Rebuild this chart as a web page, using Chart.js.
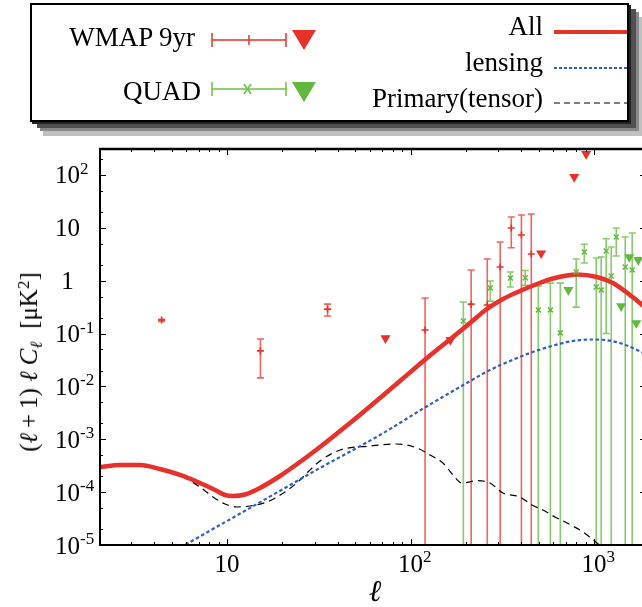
<!DOCTYPE html>
<html><head><meta charset="utf-8">
<script src="https://cdn.jsdelivr.net/npm/chart.js@4.4.1/dist/chart.umd.min.js"></script>
<style>
html,body{margin:0;padding:0;background:#fff;overflow:hidden;width:642px;height:607px;position:relative;}
#cv{position:absolute;left:0;top:0;}
.serif{font-family:"Liberation Serif","Times New Roman",serif;color:#000;}
#lgbox{position:absolute;left:30px;top:3px;width:599px;height:119px;box-sizing:border-box;border:2px solid #000;background:#fff;
  box-shadow:2px 2px 0 #222,7px 6px 0 #505050,10px 9px 0 #888,13px 14px 0 #c0c0c0;}
.lt{position:absolute;font-size:27px;line-height:30px;height:30px;white-space:nowrap;text-align:right;}
#lgsvg{position:absolute;left:0;top:0;}
#xt{position:absolute;left:375px;top:591px;transform:translate(-50%,-50%);font-size:30px;font-style:italic;line-height:30px;}
#yt{position:absolute;left:29px;top:362px;transform:translate(-50%,-50%) rotate(-90deg);font-size:25px;white-space:nowrap;line-height:30px;}
#yt sub,#yt sup{font-size:0.68em;line-height:0;position:relative;vertical-align:baseline;}
#yt sub{top:0.3em;} #yt sup{top:-0.5em;}
</style></head>
<body>
<canvas id="cv" width="660" height="607"></canvas>
<div id="lgbox"></div>
<div class="lt serif" style="right:447px;top:22px;">WMAP 9yr</div>
<div class="lt serif" style="right:441px;top:76px;">QUAD</div>
<div class="lt serif" style="right:99px;top:11px;">All</div>
<div class="lt serif" style="right:99px;top:47px;">lensing</div>
<div class="lt serif" style="right:99px;top:83px;">Primary(tensor)</div>
<svg id="lgsvg" width="642" height="130" xmlns="http://www.w3.org/2000/svg">
  <g stroke="#e8312a" stroke-width="1.5" fill="none">
    <line x1="212" y1="40" x2="286" y2="40"/>
    <line x1="212" y1="33" x2="212" y2="47"/>
    <line x1="286" y1="33" x2="286" y2="47"/>
    <line x1="249" y1="35" x2="249" y2="45"/>
  </g>
  <polygon points="292,30 316,30 304,50" fill="#e8312a"/>
  <g stroke="#6cbf45" stroke-width="1.5" fill="none">
    <line x1="212" y1="89" x2="286" y2="89"/>
    <line x1="212" y1="82" x2="212" y2="96"/>
    <line x1="286" y1="82" x2="286" y2="96"/>
    <line x1="244" y1="84" x2="251" y2="94"/>
    <line x1="251" y1="84" x2="244" y2="94"/>
  </g>
  <polygon points="292,82 316,82 304,102" fill="#62b83c"/>
  <line x1="554" y1="32" x2="627" y2="32" stroke="#e8312a" stroke-width="4"/>
  <line x1="554" y1="68" x2="627" y2="68" stroke="#2f5fbf" stroke-width="2" stroke-dasharray="3,2"/>
  <line x1="554" y1="103" x2="627" y2="103" stroke="#000" stroke-width="1.2" stroke-dasharray="6,4"/>
</svg>
<div id="xt" class="serif">ℓ</div>
<div id="yt" class="serif">(<i>ℓ</i>&#8201;+&#8201;1) <i>ℓ</i> <i>C</i><sub><i>ℓ</i></sub>&nbsp; [μK<sup>2</sup>]</div>
<script>
// ---------------- data ----------------
const allL = [2.03,2.61,3.35,4.31,5.54,7.12,8.6,9.74,10.77,12.52,15.11,19.43,24.97,32.09,46.76,68.15,87.6,122.9,170.3,210.8,260.9,318.9,394.8,488.7,597.3,807.1,1037,1268,1569,1779,2017];
const allV = [2.99e-4,3.26e-4,3.26e-4,2.74e-4,2.11e-4,1.49e-4,1.10e-4,8.83e-5,8.45e-5,9.02e-5,1.20e-4,2.02e-4,3.72e-4,7.14e-4,2.03e-3,6.04e-3,1.267e-2,3.45e-2,8.61e-2,0.1584,0.2915,0.4506,0.6384,0.866,1.10,1.31,1.175,0.905,0.536,0.378,0.256];

const lensL = [4.89,5.9,13.33,32.09,68.15,119.8,198,270.9,348.3,447.6,575.2,739.1,950,1147,1384,1671,2017];
const lensV = [6.76e-6,1.0e-5,5.01e-5,2.86e-4,1.205e-3,3.99e-3,1.111e-2,2.045e-2,3.03e-2,4.29e-2,5.69e-2,7.08e-2,7.72e-2,7.55e-2,6.63e-2,5.10e-2,3.76e-2];

const tensL = [2.03,3.07,4.31,5.75,7.12,8.38,9.74,11.33,13.33,16.5,20.7,24.97,28.31,32.09,41.25,60.1,84.3,108.4,127.6,150.2,170.3,190.7,233,271,318.9,394.8,459,527,612.6,712,870.5,1037,1147];
const tensV = [2.99e-4,3.26e-4,2.74e-4,1.93e-4,1.25e-4,8.09e-5,5.97e-5,5.24e-5,5.47e-5,6.51e-5,1.006e-4,1.70e-4,2.62e-4,3.88e-4,6.27e-4,7.46e-4,8.14e-4,6.84e-4,5.04e-4,3.56e-4,2.11e-4,1.49e-4,1.65e-4,1.49e-4,9.63e-5,8.09e-5,5.71e-5,4.59e-5,3.39e-5,2.61e-5,1.76e-5,1.09e-5,8.04e-6];

const wmapL  = [4.4, 15.2, 35.3, 120, 214, 262, 308, 354, 402, 455];
const wmapV  = [0.18, 0.047, 0.29, 0.117, 0.36, 0.347, 1.82, 9.9, 7.3, 3.2];
const wmapHi = [0.186, 0.079, 0.36, 0.47, 1.59, 2.58, 5.4, 16, 17.5, 18.3];
const wmapLo = [0.17, 0.0145, 0.215, 1e-7, 1e-7, 1e-7, 1e-7, 4.2, 1e-7, 1e-7];
const wmapLimL = [73, 165, 515, 780, 906];
const wmapLimV = [0.082, 0.0755, 3.3, 92, 250];

const quadL  = [194, 272, 350, 422, 497, 578, 655, 800, 885, 1028, 1094, 1165, 1241, 1322, 1479, 1615];
const quadV  = [0.173, 0.73, 1.12, 1.14, 0.28, 0.28, 0.103, 1.46, 3.5, 0.76, 0.67, 3.65, 1.23, 6.7, 1.82, 1.6];
const quadHi = [0.395, 0.99, 1.46, 1.56, 0.79, 0.9, 0.9, 2.58, 4.9, 2.69, 2.8, 6.2, 4.35, 9.9, 6.7, 8.0];
const quadLo = [1e-7, 0.41, 0.76, 0.82, 1e-7, 1e-7, 1e-7, 0.316, 2.16, 1e-7, 1e-7, 0.1, 1e-7, 2.93, 1e-7, 1e-7];
const quadLimL = [725, 1406, 1556, 1700, 1742];
const quadLimV = [0.67, 0.33, 2.8, 0.158, 2.47];

// ticks
const xTickVals = [10, 100, 1000];
const xTickBase = ["10", "10", "10"];
const xTickSup  = ["", "2", "3"];
const yTickVals = [1e-5, 1e-4, 1e-3, 1e-2, 1e-1, 1, 10, 100];
const yTickBase = ["10", "10", "10", "10", "10", "1", "10", "10"];
const yTickSup  = ["-5", "-4", "-3", "-2", "-1", "", "", "2"];
// --------------------------------------

const RED = '#e8312a', GREEN = '#62b83c', BLUE = '#2f5fbf';
const pts = (xs, ys) => xs.map((x, i) => ({x, y: ys[i]}));

function drawBars(ctx, xs, ys, lo, hi, color, X, Y) {
  ctx.strokeStyle = color; ctx.lineWidth = 1.6;
  for (let i = 0; i < xs.length; i++) {
    const px = X.getPixelForValue(xs[i]);
    const pl = Y.getPixelForValue(lo[i]);
    const ph = Y.getPixelForValue(hi[i]);
    ctx.beginPath();
    ctx.moveTo(px, pl); ctx.lineTo(px, ph);
    ctx.moveTo(px - 3.5, ph); ctx.lineTo(px + 3.5, ph);
    ctx.moveTo(px - 3.5, pl); ctx.lineTo(px + 3.5, pl);
    ctx.stroke();
  }
}

const errPlugin = {
  id: 'errbars',
  beforeDatasetsDraw(chart) {
    const {ctx, chartArea: a, scales: {x, y}} = chart;
    ctx.save();
    ctx.beginPath(); ctx.rect(a.left, a.top, a.right - a.left, a.bottom - a.top); ctx.clip();
    drawBars(ctx, quadL, quadV, quadLo, quadHi, 'rgba(98,184,60,0.75)', x, y);
    drawBars(ctx, wmapL, wmapV, wmapLo, wmapHi, 'rgba(232,49,42,0.75)', x, y);
    ctx.restore();
  }
};

const framePlugin = {
  id: 'frame',
  afterDatasetsDraw(chart) {
    const {ctx, chartArea: a, scales: {x, y}} = chart;
    ctx.save();
    ctx.strokeStyle = '#000';
    ctx.lineWidth = 1;
    const xMinor = [], yMinor = [];
    for (let d = 1; d <= 1000; d *= 10) for (let k = 2; k <= 9; k++) xMinor.push(k * d);
    for (let e = -5; e <= 2; e++) { yMinor.push(2 * Math.pow(10, e)); yMinor.push(5 * Math.pow(10, e)); }
    ctx.beginPath();
    xMinor.forEach(v => { if (v < x.min || v > x.max) return; const p = Math.round(x.getPixelForValue(v)) + 0.5;
      ctx.moveTo(p, a.bottom); ctx.lineTo(p, a.bottom - 3); ctx.moveTo(p, a.top); ctx.lineTo(p, a.top + 3); });
    xTickVals.forEach(v => { const p = Math.round(x.getPixelForValue(v)) + 0.5;
      ctx.moveTo(p, a.bottom); ctx.lineTo(p, a.bottom - 6); ctx.moveTo(p, a.top); ctx.lineTo(p, a.top + 6); });
    yMinor.forEach(v => { if (v < y.min || v > y.max) return; const p = Math.round(y.getPixelForValue(v)) + 0.5;
      ctx.moveTo(a.left, p); ctx.lineTo(a.left + 3, p); ctx.moveTo(a.right, p); ctx.lineTo(a.right - 3, p); });
    yTickVals.forEach(v => { const p = Math.round(y.getPixelForValue(v)) + 0.5;
      ctx.moveTo(a.left, p); ctx.lineTo(a.left + 6, p); ctx.moveTo(a.right, p); ctx.lineTo(a.right - 6, p); });
    ctx.stroke();
    ctx.lineWidth = 2;
    ctx.beginPath();
    ctx.moveTo(a.left, a.top); ctx.lineTo(a.left, a.bottom); ctx.lineTo(a.right, a.bottom); ctx.lineTo(a.right, a.top);
    ctx.stroke();
    ctx.lineWidth = 2.6;
    ctx.beginPath(); ctx.moveTo(a.left - 1, a.top); ctx.lineTo(a.right + 1, a.top); ctx.stroke();
    ctx.fillStyle = '#000';
    ctx.textBaseline = 'alphabetic';
    const baseFont = '25px "Liberation Serif", "Times New Roman", serif';
    const supFont = '17px "Liberation Serif", "Times New Roman", serif';
    yTickVals.forEach((v, i) => {
      const py = y.getPixelForValue(v);
      ctx.font = baseFont; ctx.textAlign = 'center';
      ctx.fillText(yTickBase[i], 67.5, py + 8.5);
      if (yTickSup[i]) {
        const w = ctx.measureText("10").width;
        ctx.font = supFont; ctx.textAlign = 'left';
        ctx.fillText(yTickSup[i], 67.5 + w / 2, py - 1);
      }
    });
    xTickVals.forEach((v, i) => {
      const px = x.getPixelForValue(v);
      ctx.font = baseFont; ctx.textAlign = 'center';
      ctx.fillText(xTickBase[i], px, 571.5);
      if (xTickSup[i]) {
        const w = ctx.measureText(xTickBase[i]).width;
        ctx.font = supFont; ctx.textAlign = 'left';
        ctx.fillText(xTickSup[i], px + w / 2, 562);
      }
    });
    ctx.restore();
  }
};

const triOpts = (color) => ({pointStyle: 'triangle', pointRotation: 180, pointRadius: 5.8,
  backgroundColor: color, borderColor: color, borderWidth: 0, showLine: false});

new Chart(document.getElementById('cv').getContext('2d'), {
  type: 'scatter',
  data: {
    datasets: [
      Object.assign({label: 'WMAP 9yr limit', data: pts(wmapLimL, wmapLimV)}, triOpts(RED)),
      Object.assign({label: 'QUAD limit', data: pts(quadLimL, quadLimV)}, triOpts(GREEN)),
      {label: 'WMAP 9yr', data: pts(wmapL, wmapV), pointStyle: 'cross', pointRadius: 3.5,
       borderColor: RED, borderWidth: 1.6, showLine: false},
      {label: 'QUAD', data: pts(quadL, quadV), pointStyle: 'crossRot', pointRadius: 3.5,
       borderColor: GREEN, borderWidth: 1.5, showLine: false},
      {label: 'All', data: pts(allL, allV), showLine: true, pointRadius: 0, borderColor: RED,
       borderWidth: 4.5, cubicInterpolationMode: 'monotone'},
      {label: 'lensing', data: pts(lensL, lensV), showLine: true, pointRadius: 0, borderColor: BLUE,
       borderWidth: 2.2, borderDash: [3.5, 2.5], cubicInterpolationMode: 'monotone'},
      {label: 'Primary(tensor)', data: pts(tensL, tensV), showLine: true, pointRadius: 0, borderColor: '#000',
       borderWidth: 1.2, borderDash: [7, 5], cubicInterpolationMode: 'monotone'}
    ]
  },
  options: {
    responsive: false, animation: false, devicePixelRatio: 1, events: [],
    layout: {padding: {left: 100, top: 149, right: 660 - 646, bottom: 607 - 545}},
    plugins: {legend: {display: false}, tooltip: {enabled: false}},
    scales: {
      x: {type: 'logarithmic', min: 2.03, max: 1920, display: false},
      y: {type: 'logarithmic', min: 1e-5, max: 310, display: false}
    }
  },
  plugins: [errPlugin, framePlugin]
});
</script>
</body></html>
